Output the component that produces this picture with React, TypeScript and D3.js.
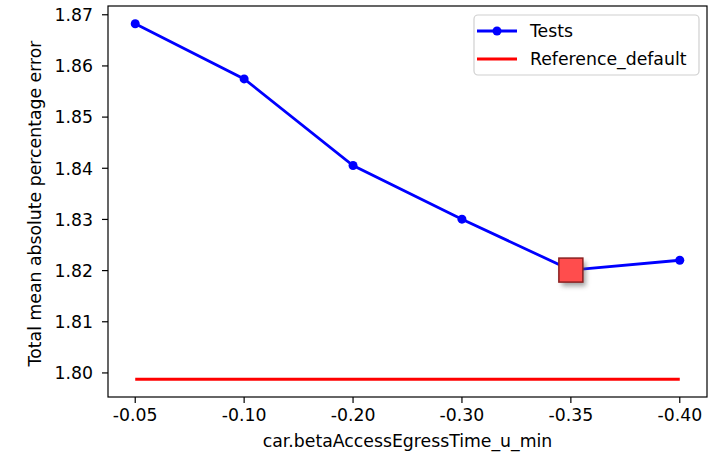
import React from "react";
import * as d3 from "d3";

const categories = ["-0.05", "-0.10", "-0.20", "-0.30", "-0.35", "-0.40"];
const testValues = [1.86824, 1.85747, 1.84054, 1.83005, 1.8201, 1.82202];
const referenceValue = 1.79877;
const yTicks = [1.8, 1.81, 1.82, 1.83, 1.84, 1.85, 1.86, 1.87];
const bestIndex = 4;

const W = 718;
const H = 459;
const left = 108;
const right = 707;
const top = 6;
const bottom = 397;
const FONT = "'DejaVu Sans', sans-serif";
const FS = 17.3;

export default function App() {
  const idx = categories.map((_, i) => i);
  const x = d3.scaleLinear().domain([-0.25, categories.length - 1 + 0.25]).range([left, right]);
  const all = [...testValues, referenceValue];
  const mn = d3.min(all) as number;
  const mx = d3.max(all) as number;
  const pad = (mx - mn) * 0.05;
  const y = d3.scaleLinear().domain([mn - pad, mx + pad]).range([bottom, top]);

  const line = d3
    .line<number>()
    .x((_, i) => x(i))
    .y((d) => y(d));

  const refLine = d3
    .line<number>()
    .x((d) => x(d))
    .y(() => y(referenceValue));

  const bx = x(bestIndex);
  const by = y(testValues[bestIndex]);
  const sq = 24;

  return (
    <svg
      width={W}
      height={H}
      style={{ position: "absolute", left: 0, top: 0, background: "#fff" }}
      fontFamily={FONT}
    >
      <defs>
        <filter id="shadow" x="-50%" y="-50%" width="200%" height="200%">
          <feGaussianBlur stdDeviation="2.5" />
        </filter>
        <clipPath id="clip">
          <rect x={left} y={top} width={right - left} height={bottom - top} />
        </clipPath>
      </defs>
      <rect x={0} y={0} width={W} height={H} fill="#fff" />

      <g clipPath="url(#clip)">
        <path
          d={refLine([0, categories.length - 1]) || ""}
          stroke="#ff0000"
          strokeWidth={3}
          fill="none"
        />
        <path d={line(testValues) || ""} stroke="#0000ff" strokeWidth={2.8} fill="none" />
        {testValues.map((v, i) => (
          <circle key={i} cx={x(i)} cy={y(v)} r={4.5} fill="#0000ff" />
        ))}
        <rect
          x={bx - sq / 2 + 3}
          y={by - sq / 2 + 4}
          width={sq}
          height={sq}
          fill="#555"
          opacity={0.55}
          filter="url(#shadow)"
        />
        <rect
          x={bx - sq / 2}
          y={by - sq / 2}
          width={sq}
          height={sq}
          fill="#ff4d4d"
          stroke="#8b2020"
          strokeWidth={1.5}
        />
      </g>

      <rect
        x={left}
        y={top}
        width={right - left}
        height={bottom - top}
        fill="none"
        stroke="#000"
        strokeWidth={1.2}
      />

      {yTicks.map((t) => (
        <g key={t} transform={`translate(0,${y(t)})`}>
          <line x1={left - 6} x2={left} stroke="#000" strokeWidth={1.2} />
          <text x={left - 15} dy="0.36em" textAnchor="end" fontSize={FS} fill="#000">
            {t.toFixed(2)}
          </text>
        </g>
      ))}

      {idx.map((i) => (
        <g key={i} transform={`translate(${x(i)},0)`}>
          <line y1={bottom} y2={bottom + 6} stroke="#000" strokeWidth={1.2} />
          <text y={bottom + 24} textAnchor="middle" fontSize={FS} fill="#000">
            {categories[i]}
          </text>
        </g>
      ))}

      <text x={(left + right) / 2} y={447} textAnchor="middle" fontSize={FS} fill="#000">
        car.betaAccessEgressTime_u_min
      </text>
      <text
        transform={`translate(41,${(top + bottom) / 2 + 2}) rotate(-90)`}
        textAnchor="middle"
        fontSize={FS}
        fill="#000"
      >
        Total mean absolute percentage error
      </text>

      <g>
        <rect x={474} y={15} width={225} height={60} rx={4} fill="#fff" fillOpacity={0.8} stroke="#d0d0d0" strokeWidth={1.2} />
        <line x1={477} x2={517} y1={31} y2={31} stroke="#0000ff" strokeWidth={2.8} />
        <circle cx={497} cy={31} r={4.5} fill="#0000ff" />
        <text x={530} y={31} dy="0.36em" fontSize={FS} fill="#000">Tests</text>
        <line x1={477} x2={517} y1={59} y2={59} stroke="#ff0000" strokeWidth={3} />
        <text x={530} y={59} dy="0.36em" fontSize={FS} fill="#000">Reference_default</text>
      </g>
    </svg>
  );
}
